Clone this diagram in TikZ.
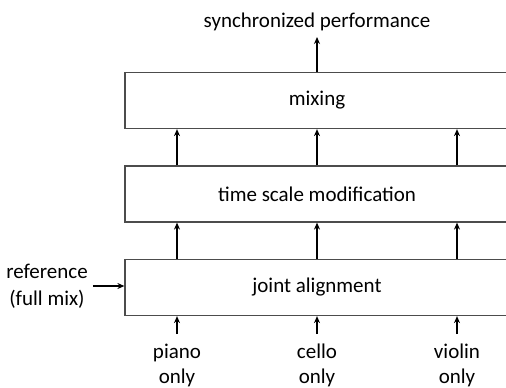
\documentclass[tikz,border=0pt]{standalone}
\usepackage{fontspec}
\setmainfont{Carlito}
\usetikzlibrary{positioning, arrows.meta}

\tikzset{
    stage/.style={draw=black!70, line width=1.2pt, minimum width=405pt, minimum height=56pt, inner sep=0pt},
    lbl/.style={align=center, inner sep=1pt},
    flow/.style={->, line width=2pt}
}

\begin{document}
\begin{tikzpicture}[x=1pt, y=-1pt, >={Stealth[length=7pt, width=6pt]}, font=\fontsize{21}{25}\selectfont]
    % Frame
    \clip (0, 0) rectangle (506, 388);

    % Stages
    \node[stage] (mix) at (327.5, 100.5) {};
    \node[stage] (tsm) at (327.5, 194) {};
    \node[stage] (align) at (327.5, 287.5) {};
    \node at (317, 100.5) {mixing};
    \node at (317, 194) {time scale modification};
    \node at (317, 287.5) {joint alignment};

    % Inputs and output
    \node[lbl, anchor=north] (piano) at (177, 343) {piano\\only};
    \node[lbl, anchor=north] (cello) at (317, 343) {cello\\only};
    \node[lbl, anchor=north] (violin) at (457, 343) {violin\\only};
    \node[lbl, font=\fontsize{21}{27}\selectfont] (ref) at (47, 286) {reference\\(full mix)};
    \node[lbl, anchor=south] (sync) at (317, 32) {synchronized performance};

    % Arrows
    \draw[flow, shorten <=9pt] (piano) -- (piano |- align.south);
    \draw[flow, shorten <=9pt] (cello) -- (cello |- align.south);
    \draw[flow, shorten <=9pt] (violin) -- (violin |- align.south);
    \draw[flow] (ref.east) ++(4, 0) coordinate (refend) -- (refend -| align.west);
    \foreach \src in {piano, cello, violin} {
        \draw[flow] (align.north -| \src) -- (tsm.south -| \src);
        \draw[flow] (tsm.north -| \src) -- (mix.south -| \src);
    }
    \draw[flow, shorten >=5pt] (mix.north -| cello) -- (sync);
\end{tikzpicture}
\end{document}
